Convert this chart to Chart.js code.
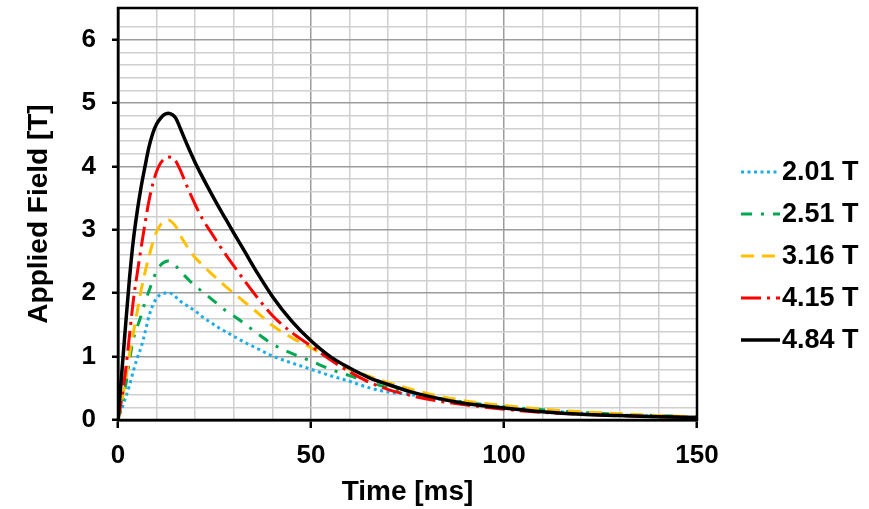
<!DOCTYPE html>
<html>
<head>
<meta charset="utf-8">
<script src="https://cdn.jsdelivr.net/npm/chart.js@4.4.1/dist/chart.umd.min.js"></script>
<style>
  html, body { margin: 0; padding: 0; background: #fff; }
  #wrap { width: 869px; height: 509px; }
</style>
</head>
<body>
<div id="wrap"><canvas id="fieldChart" width="869" height="509"></canvas></div>
<script>
// ── Data ──
// Time points [ms] shared by all five pulses
const TIME = [0, 1, 2, 3, 4, 5, 6, 7, 8, 9, 10, 11, 12, 13, 14, 15, 16,
              18, 20, 22, 24, 26, 28, 30,
              33, 36, 40, 45, 50, 55, 60, 65, 70, 75, 80,
              90, 100, 110, 120, 130, 140, 150];

// Applied field [T] for each pulse
const FIELD_201 = [0, 0.18, 0.36, 0.55, 0.78, 0.98, 1.15, 1.38, 1.63, 1.81, 1.92, 1.98, 2.0, 2.01, 1.99, 1.94, 1.88,
                   1.8, 1.72, 1.62, 1.54, 1.46, 1.39, 1.32,
                   1.22, 1.13, 1.01, 0.9, 0.8, 0.7, 0.61, 0.51, 0.44, 0.41, 0.36,
                   0.27, 0.2, 0.15, 0.11, 0.08, 0.06, 0.04];
const FIELD_251 = [0, 0.25, 0.55, 0.95, 1.28, 1.47, 1.65, 1.86, 2.03, 2.2, 2.35, 2.44, 2.49, 2.51, 2.49, 2.43, 2.36,
                   2.23, 2.11, 2.02, 1.92, 1.82, 1.72, 1.64,
                   1.51, 1.37, 1.2, 1.05, 0.93, 0.8, 0.7, 0.6, 0.51, 0.45, 0.38,
                   0.28, 0.21, 0.16, 0.12, 0.09, 0.07, 0.05];
const FIELD_316 = [0, 0.3, 0.65, 1.05, 1.38, 1.72, 2.05, 2.33, 2.57, 2.8, 2.97, 3.08, 3.14, 3.16, 3.12, 3.05, 2.93,
                   2.73, 2.56, 2.44, 2.32, 2.21, 2.1, 2.0,
                   1.85, 1.7, 1.49, 1.3, 1.14, 0.97, 0.8, 0.69, 0.59, 0.5, 0.42,
                   0.3, 0.23, 0.17, 0.13, 0.1, 0.07, 0.05];
const FIELD_415 = [0, 0.35, 0.8, 1.35, 1.9, 2.32, 2.72, 3.1, 3.45, 3.72, 3.92, 4.05, 4.12, 4.15, 4.14, 4.08, 3.96,
                   3.67, 3.4, 3.16, 2.97, 2.78, 2.6, 2.43,
                   2.18, 1.94, 1.65, 1.38, 1.17, 0.95, 0.76, 0.6, 0.48, 0.4, 0.33,
                   0.24, 0.17, 0.12, 0.09, 0.07, 0.05, 0.04];
const FIELD_484 = [0, 0.76, 1.52, 2.25, 2.85, 3.3, 3.68, 4.0, 4.3, 4.52, 4.67, 4.76, 4.82, 4.84, 4.82, 4.76, 4.62,
                   4.33, 4.06, 3.82, 3.59, 3.37, 3.16, 2.95,
                   2.64, 2.33, 1.95, 1.56, 1.25, 1.0, 0.82, 0.67, 0.56, 0.46, 0.38,
                   0.26, 0.19, 0.13, 0.09, 0.07, 0.05, 0.04];

const LABELS = ['2.01 T', '2.51 T', '3.16 T', '4.15 T', '4.84 T'];

// ── Styles per series (colour, dash, width) ──
const SERIES = [
  { label: LABELS[0], values: FIELD_201, color: '#1aaee8', dash: [3, 3.5],        width: 3 },
  { label: LABELS[1], values: FIELD_251, color: '#00a850', dash: [11, 9, 3, 9],   width: 3 },
  { label: LABELS[2], values: FIELD_316, color: '#ffc000', dash: [13, 8],         width: 3 },
  { label: LABELS[3], values: FIELD_415, color: '#ff0000', dash: [20, 6, 3, 6],   width: 3 },
  { label: LABELS[4], values: FIELD_484, color: '#000000', dash: [],              width: 3.5 }
];

const FONT = '"Liberation Sans", Arial, sans-serif';
const isInt = v => Math.abs(v - Math.round(v)) < 1e-6;

// Black frame round the whole plot area (top and right sides included)
const framePlugin = {
  id: 'plotFrame',
  afterDraw(chart) {
    const { ctx, chartArea: a } = chart;
    ctx.save();
    ctx.strokeStyle = '#000';
    ctx.lineWidth = 2.5;
    ctx.strokeRect(a.left, a.top, a.right - a.left, a.bottom - a.top);
    ctx.restore();
  }
};

// Legend drawn as short line samples to the right of the plot
const legendPlugin = {
  id: 'sideLegend',
  afterDraw(chart) {
    const ctx = chart.ctx;
    ctx.save();
    ctx.font = 'bold 27px ' + FONT;
    ctx.textBaseline = 'middle';
    ctx.textAlign = 'left';
    SERIES.forEach((s, i) => {
      const y = 172 + i * 42;
      ctx.strokeStyle = s.color;
      ctx.lineWidth = s.width;
      ctx.setLineDash(s.dash);
      ctx.beginPath();
      ctx.moveTo(741, y);
      ctx.lineTo(780, y);
      ctx.stroke();
      ctx.setLineDash([]);
      ctx.fillStyle = '#000';
      ctx.fillText(s.label, 782, y + 1);
    });
    ctx.restore();
  }
};

const datasets = SERIES.map((s, i) => ({
  label: s.label,
  data: TIME.map((t, k) => ({ x: t, y: s.values[k] })),
  borderColor: s.color,
  borderWidth: s.width,
  borderDash: s.dash,
  pointRadius: 0,
  fill: false,
  cubicInterpolationMode: 'monotone',
  order: SERIES.length - 1 - i   // black drawn last, on top
}));

new Chart(document.getElementById('fieldChart'), {
  type: 'line',
  data: { datasets },
  options: {
    responsive: false,
    animation: false,
    devicePixelRatio: 1,
    layout: { padding: { top: 8, right: 172, left: 0, bottom: 0 } },
    plugins: { legend: { display: false }, tooltip: { enabled: false } },
    scales: {
      x: {
        type: 'linear',
        min: 0, max: 150,
        // fixed axis band so the plot area lands where the reference has it
        afterFit: s => { s.height = 89; s.paddingLeft = 0; s.paddingRight = 0; },
        border: { color: '#000', width: 2.5 },
        grid: {
          color: c => (c.tick && c.tick.value % 50 === 0) ? '#9c9c9c' : '#cfcfcf',
          lineWidth: 1.5,
          tickLength: 8,
          tickWidth: 2.5,
          tickColor: c => (c.tick && c.tick.value % 50 === 0) ? '#000' : 'rgba(0,0,0,0)'
        },
        ticks: {
          stepSize: 10,
          autoSkip: false,
          maxRotation: 0,
          padding: 12,
          color: '#000',
          font: { family: FONT, size: 26, weight: 'bold' },
          callback: v => (v % 50 === 0 ? String(v) : '')
        },
        title: {
          display: true,
          text: 'Time [ms]',
          color: '#000',
          font: { family: FONT, size: 28, weight: 'bold' },
          padding: { top: 0, bottom: 0 }
        }
      },
      y: {
        type: 'linear',
        min: 0, max: 6.5,
        afterFit: s => { s.width = 118; s.paddingTop = 0; s.paddingBottom = 0; },
        border: { color: '#000', width: 2.5 },
        grid: {
          color: c => (c.tick && isInt(c.tick.value)) ? '#9c9c9c' : '#cfcfcf',
          lineWidth: 1.5,
          tickLength: 6,
          tickWidth: 2.5,
          tickColor: c => (c.tick && isInt(c.tick.value)) ? '#000' : 'rgba(0,0,0,0)'
        },
        ticks: {
          stepSize: 0.2,
          autoSkip: false,
          padding: 16,
          color: '#000',
          font: { family: FONT, size: 26, weight: 'bold' },
          callback: v => (isInt(v) ? String(Math.round(v)) : '')
        },
        title: {
          display: true,
          text: 'Applied Field [T]',
          color: '#000',
          font: { family: FONT, size: 28, weight: 'bold' },
          padding: { top: 22, bottom: 0 }
        }
      }
    }
  },
  plugins: [framePlugin, legendPlugin]
});
</script>
</body>
</html>
